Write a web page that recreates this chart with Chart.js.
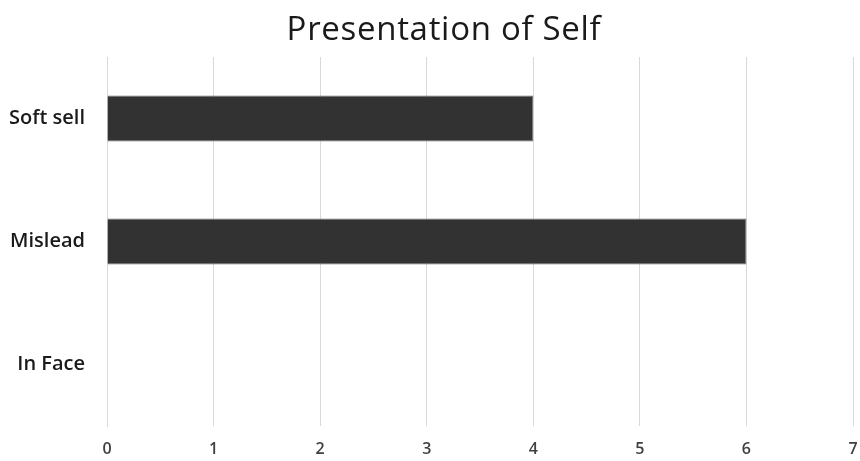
<!DOCTYPE html>
<html>
<head>
<meta charset="utf-8">
<script src="https://cdn.jsdelivr.net/npm/chart.js@4.4.0/dist/chart.umd.min.js"></script>
<style>
  html, body { margin: 0; padding: 0; background: #fff; }
  #wrap { position: relative; width: 860px; height: 461px; }
  #title {
    position: absolute; top: 5px; left: 0; width: 888px; text-align: center;
    font-family: "Open Sans", sans-serif; font-size: 33px; font-weight: 400;
    color: #1a1a1a; letter-spacing: 0.7px;
  }
</style>
</head>
<body>
<div id="wrap">
  <div id="title">Presentation of Self</div>
  <canvas id="selfChart" width="860" height="461"></canvas>
</div>
<script>
const categories = ["Soft sell", "Mislead", "In Face"];
const counts = [4, 6, 0];
const xTicks = [0, 1, 2, 3, 4, 5, 6, 7];

const ctx = document.getElementById("selfChart");
new Chart(ctx, {
  type: "bar",
  data: {
    labels: categories,
    datasets: [
      {
        label: "Count",
        data: counts,
        backgroundColor: "#323232",
        borderColor: "#6a6a6a",
        borderWidth: 1,
        categoryPercentage: 1,
        barPercentage: 0.375,
      },
    ],
  },
  options: {
    indexAxis: "y",
    responsive: false,
    animation: false,
    layout: { padding: { top: 57, right: 7, left: 0, bottom: 0 } },
    plugins: {
      legend: { display: false },
      tooltip: { enabled: false },
    },
    scales: {
      x: {
        min: xTicks[0],
        max: xTicks[xTicks.length - 1],
        afterBuildTicks: (axis) => {
          axis.ticks = xTicks.map((v) => ({ value: v }));
        },
        afterFit: (axis) => {
          axis.height = 35;
          axis.paddingLeft = 0;
          axis.paddingRight = 0;
        },
        border: { display: false },
        grid: { color: "#d9d9d9", lineWidth: 1, drawTicks: false },
        ticks: {
          padding: 14,
          color: "#404040",
          font: { family: "Open Sans", size: 16, weight: "600" },
        },
      },
      y: {
        afterFit: (axis) => {
          axis.width = 107;
        },
        border: { display: true, color: "#d9d9d9" },
        grid: { display: false, drawTicks: false },
        ticks: {
          padding: 22,
          color: "#1a1a1a",
          font: { family: "Open Sans", size: 20, weight: "600" },
        },
      },
    },
  },
});
</script>
</body>
</html>
